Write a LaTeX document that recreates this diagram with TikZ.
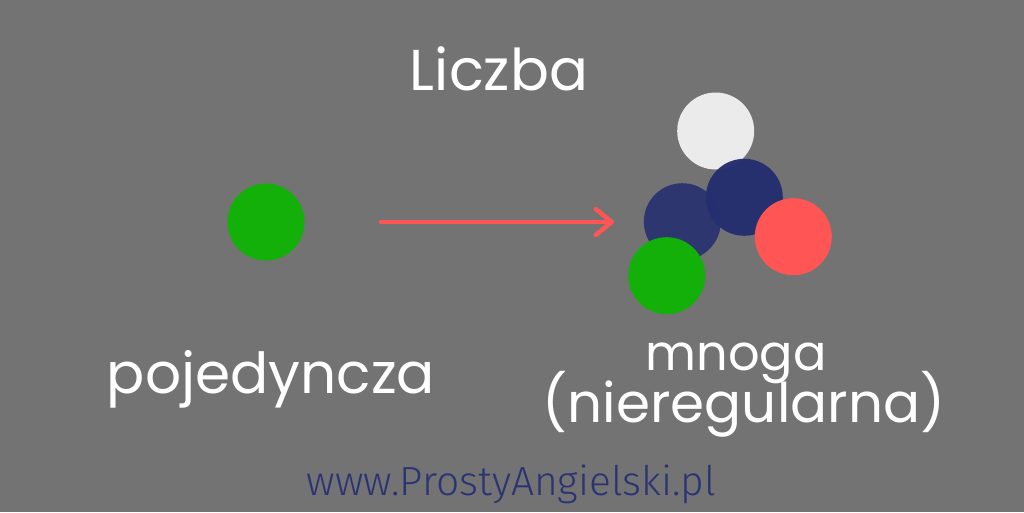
\documentclass[tikz,border=0pt]{standalone}
\usepackage{fontspec}
\setmainfont{Poppins}
\newfontfamily\urlfont{Fira Sans}
\usetikzlibrary{arrows.meta}
\definecolor{bg}{HTML}{737373}
\definecolor{cgreen}{HTML}{14B00A}
\definecolor{cred}{HTML}{FF5555}
\definecolor{cnavyA}{HTML}{2E3670}
\definecolor{cnavyB}{HTML}{252E6E}
\definecolor{cwhite}{HTML}{EBEBEB}
\definecolor{curl}{HTML}{2B3473}
\tikzset{
  ball/.style={circle,minimum size=77pt,inner sep=0pt,draw=none},
  hand/.style={text=white,inner sep=0pt,anchor=base},
}
\begin{document}
\begin{tikzpicture}[x=1pt,y=-1pt]
\fill[bg] (0,0) rectangle (1024,512);
\useasboundingbox (0,0) rectangle (1024,512);
% single
\node[ball,fill=cgreen] (single) at (266,222) {};
% group
\node[ball,fill=cwhite] (w) at (715.7,131) {};
\node[ball,fill=cnavyA] (nA) at (682.3,221.7) {};
\node[ball,fill=cnavyB,fill opacity=0.97] (nB) at (744.3,197.3) {};
\node[ball,fill=cred] (r) at (793.3,236.7) {};
\node[ball,fill=cgreen] (g) at (666.7,275.7) {};
% arrow
\coordinate (a1) at (381,222);
\coordinate (a2) at (614,222);
\draw[cred,line width=4.5pt,line cap=round,-{Straight Barb[length=16pt,width=26pt,round]}] (a1) -- (a2);
% texts
\node[hand] (title) at (499,90) {\resizebox{178pt}{!}{Liczba}};
\node[hand] (t1) at (271,393) {\resizebox{328pt}{!}{pojedyncza}};
\node[hand] (t2) at (736,370) {\resizebox{181pt}{!}{mnoga}};
\node[hand] (t3) at (744,422) {\resizebox{402pt}{!}{(nieregularna)}};
\node[text=curl,inner sep=0pt,anchor=base] (url) at (511.5,495) {\resizebox{409pt}{!}{\urlfont\fontspec{Fira Sans Light}www.ProstyAngielski.pl}};
\end{tikzpicture}
\end{document}
